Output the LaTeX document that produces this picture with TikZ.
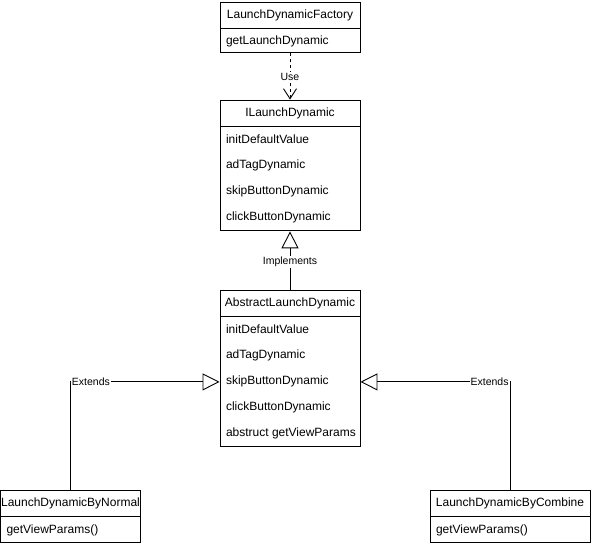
\documentclass[tikz,border=0pt]{standalone}
\usepackage{fontspec}
\setmainfont{Liberation Sans}
\usetikzlibrary{arrows.meta}

\begin{document}
\begin{tikzpicture}[x=1pt, y=-1pt, line width=0.9pt,
    font=\fontsize{12}{14}\selectfont,
    head/.style={draw=black, minimum width=140, minimum height=26, inner sep=0},
    body/.style={draw=black, minimum width=140, inner sep=0, anchor=north},
    member/.style={anchor=west, inner sep=0},
    lbl/.style={fill=white, inner sep=1pt, font=\fontsize{10.5}{12}\selectfont},
    opentri/.style={-{Triangle[open, length=17pt, width=17pt]}}]

  \useasboundingbox (0,0) rectangle (591,546);

  % factory
  \node[head] (fhead) at (290,15) {LaunchDynamicFactory};
  \node[body, minimum height=24] (fbody) at (fhead.south) {};
  \node[member] (fget) at ([xshift=6]fbody.west) {getLaunchDynamic};

  % interface
  \node[head] (ihead) at (290,113) {ILaunchDynamic};
  \node[body, minimum height=104] (ibody) at (ihead.south) {};
  \foreach \m [count=\i] in {initDefaultValue, adTagDynamic,
      skipButtonDynamic, clickButtonDynamic}{
      \node[member] (i\i) at ([xshift=6, yshift={13-26*\i}]ibody.north west) {\m};
    }

  % abstract class
  \node[head] (ahead) at (290,303) {AbstractLaunchDynamic};
  \node[body, minimum height=130] (abody) at (ahead.south) {};
  \foreach \m [count=\i] in {initDefaultValue, adTagDynamic,
      skipButtonDynamic, clickButtonDynamic, abstruct getViewParams}{
      \node[member] (a\i) at ([xshift=6, yshift={13-26*\i}]abody.north west) {\m};
    }

  % subclasses
  \node[head] (nhead) at (70.5,503) {LaunchDynamicByNormal};
  \node[body, minimum height=26] (nbody) at (nhead.south) {};
  \node[member] (nget) at ([xshift=6]nbody.west) {getViewParams()};

  \node[head, minimum width=160] (chead) at (510,503) {LaunchDynamicByCombine};
  \node[body, minimum width=160, minimum height=26] (cbody) at (chead.south) {};
  \node[member] (cget) at ([xshift=6]cbody.west) {getViewParams()};

  % relations
  \draw[dashed, -{Straight Barb[length=10pt, width=13pt]}] (fbody.south) -- (ihead.north)
  node[lbl, midway] {Use};
  \draw[opentri] (ahead.north) -- (ibody.south) node[lbl, pos=0.48] {Implements};
  \draw[opentri] (nhead.north) |- (abody.west)
  node[lbl, pos=0.5, anchor=west] {Extends};
  \draw[opentri] (chead.north) |- (abody.east)
  node[lbl, pos=0.5, anchor=east] {Extends};

\end{tikzpicture}
\end{document}
